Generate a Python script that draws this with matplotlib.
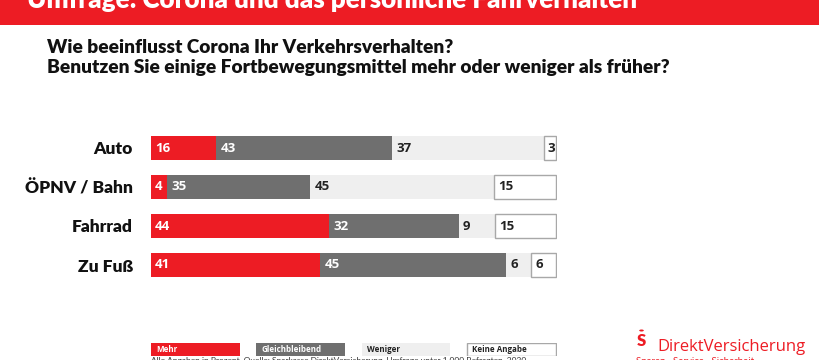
import matplotlib.pyplot as plt
from matplotlib.patches import Rectangle, Circle

# Data
categories = ["Auto", "ÖPNV / Bahn", "Fahrrad", "Zu Fuß"]
mehr = [16, 4, 44, 41]
gleich = [43, 35, 32, 45]
weniger = [37, 45, 9, 6]
keine = [3, 15, 15, 6]
series_names = ["Mehr", "Gleichbleibend", "Weniger", "Keine Angabe"]

title = "Umfrage: Corona und das persönliche Fahrverhalten"
question = "Wie beeinflusst Corona Ihr Verkehrsverhalten?\nBenutzen Sie einige Fortbewegungsmittel mehr oder weniger als früher?"
footnote = "Alle Angaben in Prozent. Quelle: Sparkasse DirektVersicherung, Umfrage unter 1.000 Befragten, 2020"

# Colours
red = "#ed1c24"
dark = "#6f6f6f"
light = "#efefef"
white = "#ffffff"
border = "#a8a8a8"
colors = [red, dark, light, white]
text_colors = ["white", "white", "#222222", "#222222"]

plt.rcParams['font.family'] = ["Lato", "DejaVu Sans"]
label_font = ["Open Sans", "DejaVu Sans"]

W, H = 820, 360
fig = plt.figure(figsize=(W / 100, H / 100), dpi=100)
fig.patch.set_facecolor("white")

def px(x, y):
    return x / W, 1 - y / H

# Top banner
fig.patches.append(Rectangle((0, 1 - 25 / H), 1, 25 / H, transform=fig.transFigure,
                             facecolor=red, edgecolor="none"))
fig.text(*px(27, 8), title, color="white", fontsize=18.7, fontweight="heavy",
         ha="left", va="baseline")

# Question
fig.text(*px(47, 39), question, color="#111111", fontsize=13.8, fontweight="heavy",
         ha="left", va="top", linespacing=1.25)

# Main bars
ax = fig.add_axes([151 / W, 1 - 284.5 / H, 406 / W, 156 / H])
series = [mehr, gleich, weniger, keine]
totals = [sum(v) for v in zip(*series)]
ypos = list(range(len(categories)))
left = [0.0] * len(categories)
for k, vals in enumerate(series):
    widths = [v / t * 100 for v, t in zip(vals, totals)]
    ec = border if k == 3 else "none"
    ax.barh(ypos, widths, left=left, height=0.64, color=colors[k],
            edgecolor=ec, linewidth=1)
    for i, (v, w) in enumerate(zip(vals, widths)):
        ax.text(left[i] + 1.0, ypos[i], str(v), color=text_colors[k],
                fontsize=9.5, fontweight="bold", family=label_font,
                ha="left", va="center")
    left = [l + w for l, w in zip(left, widths)]

ax.set_xlim(0, 100.3)
ax.set_ylim(len(categories) - 0.5, -0.5)
ax.set_yticks(ypos)
ax.set_yticklabels(categories, fontsize=12.5, fontweight="heavy", color="#111111")
ax.tick_params(axis="y", length=0, pad=13)
ax.set_xticks([])
for s in ax.spines.values():
    s.set_visible(False)

# Legend boxes
lax = fig.add_axes([151 / W, 1 - 356 / H, 406 / W, 13 / H])
box_w = 21.9
step = (100 - box_w) / 3
for k, name in enumerate(series_names):
    x0 = k * step
    lax.bar(x0, 1, width=box_w, align="edge", color=colors[k],
            edgecolor=border if k == 3 else "none", linewidth=1)
    lax.text(x0 + 1.3, 0.5, name, color=text_colors[k], fontsize=5.8,
             fontweight="bold", family=label_font, ha="left", va="center")
lax.set_xlim(0, 100.3)
lax.set_ylim(0, 1)
lax.axis("off")

# Footnote (cut off at the bottom edge)
fig.text(*px(151, 357), footnote, color="#333333", fontsize=6, ha="left", va="top")

# Logo
fig.patches.append(Circle(px(641.5, 330.5), 2.3 / W, transform=fig.transFigure,
                          facecolor=red, edgecolor="none"))
fig.text(*px(641.5, 346), "S", color=red, fontsize=12, fontweight="heavy",
         ha="center", va="baseline")
fig.text(*px(657, 351), "DirektVersicherung", color=red, fontsize=12,
         ha="left", va="baseline", family=label_font)
fig.text(*px(636, 357), "Sparen · Service · Sicherheit", color=red, fontsize=7,
         ha="left", va="top")

fig.savefig("out.png", dpi=100)
